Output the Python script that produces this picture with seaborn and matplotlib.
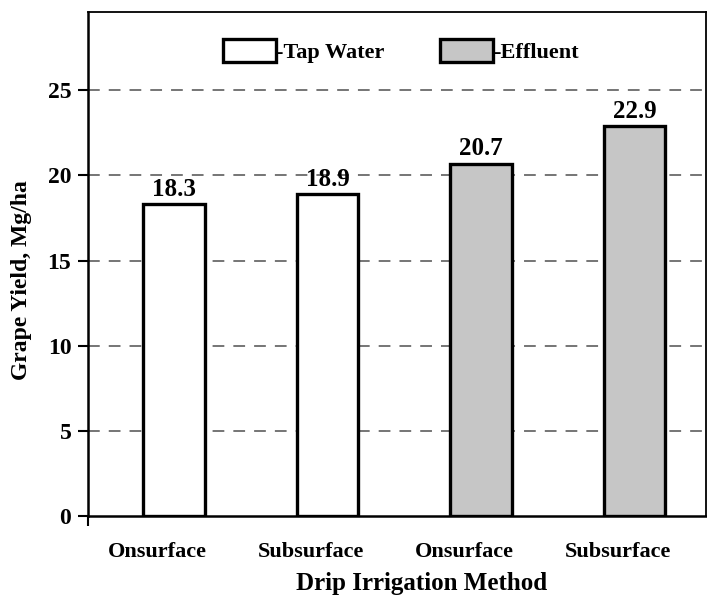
import matplotlib
matplotlib.use("Agg")
import matplotlib.pyplot as plt
import matplotlib.patches as mpatches
import matplotlib.transforms as mtransforms
import seaborn as sns
import pandas as pd

# Grape yield by drip irrigation method and water source
methods = ["Onsurface", "Subsurface", "Onsurface", "Subsurface"]
water = ["Tap Water", "Tap Water", "Effluent", "Effluent"]
yield_mg_ha = [18.3, 18.9, 20.7, 22.9]
yticks = [0, 5, 10, 15, 20, 25]

df = pd.DataFrame({
    "slot": [str(i) for i in range(len(methods))],
    "method": methods,
    "water": water,
    "yield": yield_mg_ha,
})

sns.set_theme(style="white")
plt.rcParams["font.family"] = ["Liberation Serif", "DejaVu Serif"]
plt.rcParams["font.weight"] = "bold"
plt.rcParams["text.color"] = "black"

colors = {"Tap Water": "#ffffff", "Effluent": "#c6c6c6"}

fig = plt.figure(figsize=(7.07, 5.98), dpi=100)
ax = fig.add_axes([0.1245, 0.1371, 0.8741, 0.8429])

sns.barplot(data=df, x="slot", y="yield", hue="water", palette=colors,
            dodge=False, width=0.4, edgecolor="black", linewidth=2.4,
            legend=False, ax=ax, zorder=3)

# Value labels above each bar
for i, v in enumerate(yield_mg_ha):
    ax.text(i, v + 0.2, f"{v:.1f}", ha="center", va="bottom",
            fontsize=18, fontweight="bold", color="black", zorder=4)

ax.set_xlim(-0.56, 3.466)
ax.set_ylim(0, 29.6)
ax.set_yticks(yticks)
ax.set_yticklabels([str(t) for t in yticks], fontsize=17, fontweight="bold")
ax.set_xticks(range(len(methods)))
ax.set_xticklabels(methods, fontsize=16, fontweight="bold")
ax.tick_params(axis="x", length=0, pad=19, colors="black")
ax.tick_params(axis="y", length=7, width=1.5, direction="out", pad=5,
               left=True, colors="black")
ax.set_xticks([-0.56], minor=True)
ax.tick_params(axis="x", which="minor", length=7, width=1.5, direction="out",
               bottom=True, color="black")

# Category labels sit slightly left of the bar centres
shift = mtransforms.ScaledTranslation(-16.5 / 100, 0, fig.dpi_scale_trans)
for lab in ax.get_xticklabels():
    lab.set_transform(lab.get_transform() + shift)

# Dashed horizontal reference lines
for t in yticks[1:]:
    ax.axhline(t, color="#6a6a6a", lw=1.3, linestyle=(0, (6.5, 5)), zorder=1)

for s in ax.spines.values():
    s.set_visible(True)
    s.set_color("black")
    s.set_linewidth(1.3)
ax.spines["left"].set_linewidth(1.8)
ax.spines["bottom"].set_linewidth(1.8)

ax.set_xlabel("Drip Irrigation Method", fontsize=18, fontweight="bold",
              color="black")
ax.xaxis.set_label_coords(0.540, -0.112)
ax.set_ylabel("Grape Yield, Mg/ha", fontsize=17, fontweight="bold",
              color="black")
ax.yaxis.set_label_coords(-0.0906, 0.468)

handles = [
    mpatches.Patch(facecolor=colors["Tap Water"], edgecolor="black", linewidth=2.4,
                   label="-Tap Water"),
    mpatches.Patch(facecolor=colors["Effluent"], edgecolor="black", linewidth=2.4,
                   label="-Effluent"),
]
ax.legend(handles=handles, loc="center", bbox_to_anchor=(0.506, 0.923), ncol=2,
          frameon=False, handlelength=2.4, handleheight=1.26, handletextpad=0.0,
          columnspacing=2.5, labelcolor="black",
          prop={"family": "Liberation Serif", "weight": "bold", "size": 16})

fig.savefig("out.png", dpi=100, facecolor="white")
